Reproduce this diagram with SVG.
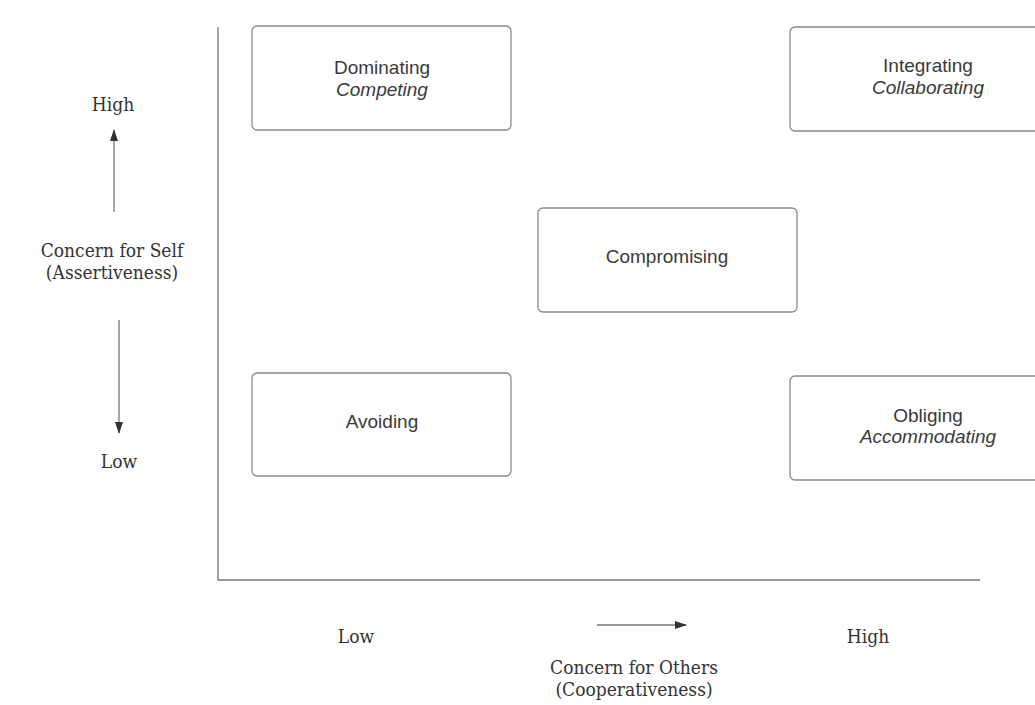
<svg xmlns="http://www.w3.org/2000/svg" width="1035" height="705" viewBox="0 0 1035 705">
<style>
.box{fill:#fff;stroke:#8a8a8a;stroke-width:1.3}
.lbl{font-family:"Liberation Sans",Arial,sans-serif;font-size:19px;fill:#3a3a3a;text-anchor:middle}
.it{font-style:italic}
.ax{font-family:"DejaVu Serif",serif;font-stretch:condensed;font-size:19px;fill:#333;text-anchor:middle}
.line{stroke:#777;stroke-width:1.3;fill:none}
</style>
<defs>
<marker id="ah" viewBox="0 0 12 10" refX="11" refY="5" markerWidth="12" markerHeight="10" markerUnits="userSpaceOnUse" orient="auto">
<path d="M0,1 L12,5 L0,9 Z" fill="#333"/>
</marker>
</defs>
<rect width="1035" height="705" fill="#fff"/>
<g id="axes">
<path class="line" d="M218,27 V580 H980"/>
</g>
<g id="connectors">
<path class="line" d="M114,212 V130" marker-end="url(#ah)"/>
<path class="line" d="M119,320 V433" marker-end="url(#ah)"/>
<path class="line" d="M597,625 H686" marker-end="url(#ah)"/>
</g>
<g id="axis-labels">
<text class="ax" x="113" y="111">High</text>
<text class="ax" x="112" y="257">Concern for Self</text>
<text class="ax" x="112" y="279">(Assertiveness)</text>
<text class="ax" x="119" y="468">Low</text>
<text class="ax" x="356" y="643">Low</text>
<text class="ax" x="868" y="643">High</text>
<text class="ax" x="634" y="674">Concern for Others</text>
<text class="ax" x="634" y="696">(Cooperativeness)</text>
</g>
<g id="dominating">
<rect class="box" x="252" y="26" width="259" height="104" rx="5"/>
<text class="lbl" x="382" y="74">Dominating</text>
<text class="lbl it" x="382" y="96">Competing</text>
</g>
<g id="integrating">
<rect class="box" x="790" y="27" width="270" height="104" rx="5"/>
<text class="lbl" x="928" y="72">Integrating</text>
<text class="lbl it" x="928" y="94">Collaborating</text>
</g>
<g id="compromising">
<rect class="box" x="538" y="208" width="259" height="104" rx="5"/>
<text class="lbl" x="667" y="263">Compromising</text>
</g>
<g id="avoiding">
<rect class="box" x="252" y="373" width="259" height="103" rx="5"/>
<text class="lbl" x="382" y="428">Avoiding</text>
</g>
<g id="obliging">
<rect class="box" x="790" y="376" width="270" height="104" rx="5"/>
<text class="lbl" x="928" y="422">Obliging</text>
<text class="lbl it" x="928" y="443">Accommodating</text>
</g>
</svg>
